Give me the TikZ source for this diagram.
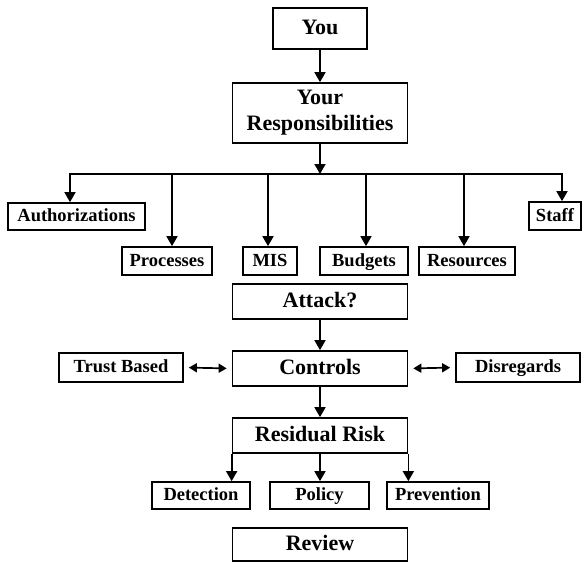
\documentclass[tikz,border=0pt]{standalone}
\usepackage{fontspec}
\setmainfont{Liberation Serif}
\usetikzlibrary{arrows.meta}
\begin{document}
\begin{tikzpicture}[x=1pt,y=-1pt,
  boxbase/.style={draw, line width=1.7pt, inner sep=0pt, align=center},
  box/.style={boxbase, font=\bfseries\fontsize{18.5}{20}\selectfont,
    text height=14pt, text depth=4pt},
  big/.style={boxbase, font=\bfseries\fontsize{22}{26}\selectfont,
    text height=17pt, text depth=5pt},
  bigtwo/.style={boxbase, font=\bfseries\fontsize{22}{26}\selectfont},
  arr/.style={line width=1.7pt, line join=miter, -{Triangle[length=10pt,width=11pt]}},
  dbl/.style={line width=1.7pt, {Triangle[length=8pt,width=9pt]}-{Triangle[length=8pt,width=9pt]},
    shorten <=5pt, shorten >=5pt}]
\useasboundingbox (0,0) rectangle (582,562);

\node[big, minimum width=94pt, minimum height=41pt] (you) at (320,28.5) {You};
\node[bigtwo, minimum width=175pt, minimum height=60pt] (resp) at (320,113) {Your\\Responsibilities};

\node[box, minimum width=137pt, minimum height=27pt] (auth) at (76.5,216.5) {Authorizations};
\node[box, minimum width=52pt, minimum height=28pt] (staff) at (555,216) {Staff};
\node[box, minimum width=90pt, minimum height=28pt] (proc) at (167,261) {Processes};
\node[box, minimum width=54pt, minimum height=28pt] (mis) at (270,261) {MIS};
\node[box, minimum width=88pt, minimum height=28pt] (budg) at (364,261) {Budgets};
\node[box, minimum width=96pt, minimum height=28pt] (reso) at (467,261) {Resources};

\node[big, minimum width=175pt, minimum height=35pt] (att) at (320,301.5) {Attack?};
\node[big, minimum width=175pt, minimum height=35pt] (ctrl) at (320,368.5) {Controls};
\node[box, minimum width=124pt, minimum height=29pt] (trust) at (121,367.5) {Trust Based};
\node[box, minimum width=124pt, minimum height=29pt] (disr) at (518,367.5) {Disregards};
\node[big, minimum width=175pt, minimum height=35pt] (res) at (320,435.5) {Residual Risk};

\node[box, minimum width=98pt, minimum height=27pt] (det) at (201,495.5) {Detection};
\node[box, minimum width=99pt, minimum height=27pt] (pol) at (319.5,495.5) {Policy};
\node[box, minimum width=102pt, minimum height=27pt] (prev) at (438,495.5) {Prevention};
\node[big, minimum width=175pt, minimum height=33pt] (rev) at (320,544.5) {Review};

\coordinate (bus) at (320,174);
\coordinate (d1) at (70,174);
\coordinate (d2) at (172,174);
\coordinate (d3) at (268,174);
\coordinate (d4) at (366,174);
\coordinate (d5) at (464,174);
\coordinate (d6) at (562,174);

\draw[arr] (you.south) -- (resp.north);
\draw[arr] (resp.south) -- (bus);
\draw[arr] (bus) -- (d1) -- (d1 |- auth.north);
\draw[arr] (bus) -- (d6) -- (d6 |- staff.north);
\draw[arr] (d2) -- (d2 |- proc.north);
\draw[arr] (d3) -- (d3 |- mis.north);
\draw[arr] (d4) -- (d4 |- budg.north);
\draw[arr] (d5) -- (d5 |- reso.north);

\draw[arr] (att.south) -- (ctrl.north);
\draw[dbl] (trust.east) -- (ctrl.west);
\draw[dbl] (ctrl.east) -- (disr.west);
\draw[arr] (ctrl.south) -- (res.north);

\draw[arr] (res.south west) -- (res.south west |- det.north);
\draw[arr] (res.south) -- (res.south |- pol.north);
\draw[arr] (res.south east) -- (res.south east |- prev.north);
\end{tikzpicture}
\end{document}
